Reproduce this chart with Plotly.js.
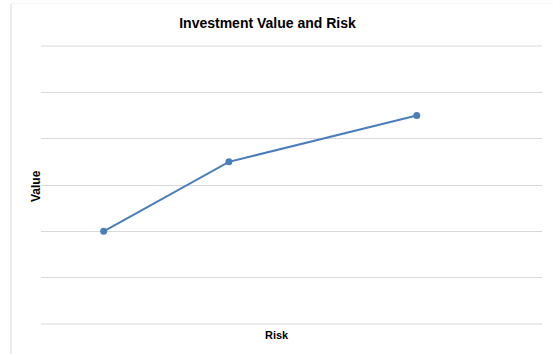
<!DOCTYPE html>
<html>
<head>
<meta charset="utf-8">
<script src="https://cdn.plot.ly/plotly-3.0.1.min.js"></script>
<style>html,body{margin:0;padding:0;background:#fff;}#chart{width:553px;height:354px;}</style>
</head>
<body>
<div id="chart"></div>
<script>
const riskValues = [1, 3, 6];
const investmentValues = [2, 3.5, 4.5];
const chartTitle = "Investment Value and Risk";
const xTitle = "Risk";
const yTitle = "Value";

const W = 553, H = 354;
const margin = {l: 41, r: 11, t: 46, b: 30};
const pw = W - margin.l - margin.r, ph = H - margin.t - margin.b;
const px = v => (v - margin.l) / pw;
const py = v => (H - margin.b - v) / ph;

const trace = {
  x: riskValues, y: investmentValues, type: 'scatter', mode: 'lines+markers',
  line: {color: '#4a7ebb', width: 2},
  marker: {color: '#4a7ebb', size: 7},
  hoverinfo: 'x+y', showlegend: false
};

const layout = {
  width: W, height: H, margin: margin,
  paper_bgcolor: '#ffffff', plot_bgcolor: '#ffffff',
  font: {family: 'Liberation Sans, Arial, sans-serif', color: '#000'},
  title: {text: '<b>' + chartTitle + '</b>', font: {size: 14, color: '#000'},
          x: px(267.5), xref: 'paper', xanchor: 'center', y: 1 - 23 / H, yanchor: 'middle'},
  xaxis: {range: [0, 8], showgrid: false, zeroline: false, showticklabels: false, ticks: '',
          showline: false},
  yaxis: {range: [0, 6], dtick: 1, showgrid: true, gridcolor: '#d9d9d9', gridwidth: 1,
          zeroline: false, showticklabels: false, ticks: '', showline: false},
  annotations: [
    {text: '<b>' + xTitle + '</b>', xref: 'paper', yref: 'paper', x: px(277), y: py(335),
     xanchor: 'center', yanchor: 'middle', showarrow: false, font: {size: 11, color: '#000'}},
    {text: '<b>' + yTitle + '</b>', xref: 'paper', yref: 'paper', x: px(36), y: py(186),
     xanchor: 'center', yanchor: 'middle', showarrow: false, textangle: -90,
     font: {size: 12, color: '#000'}}
  ],
  shapes: [
    {type: 'line', xref: 'paper', yref: 'paper', x0: px(11), x1: px(11), y0: py(4), y1: py(354),
     line: {color: '#d9d9d9', width: 1}},
    {type: 'line', xref: 'paper', yref: 'paper', x0: px(11), x1: px(553), y0: py(3.5), y1: py(3.5),
     line: {color: '#f4f4f4', width: 1}},
    {type: 'line', xref: 'paper', yref: 'paper', x0: 0, x1: 1, y0: 0, y1: 0,
     line: {color: '#d9d9d9', width: 1}, layer: 'below'},
    {type: 'line', xref: 'paper', yref: 'paper', x0: 0, x1: 1, y0: 1, y1: 1,
     line: {color: '#d9d9d9', width: 1}, layer: 'below'}
  ]
};

Plotly.newPlot('chart', [trace], layout, {displayModeBar: false, staticPlot: true});
</script>
</body>
</html>
